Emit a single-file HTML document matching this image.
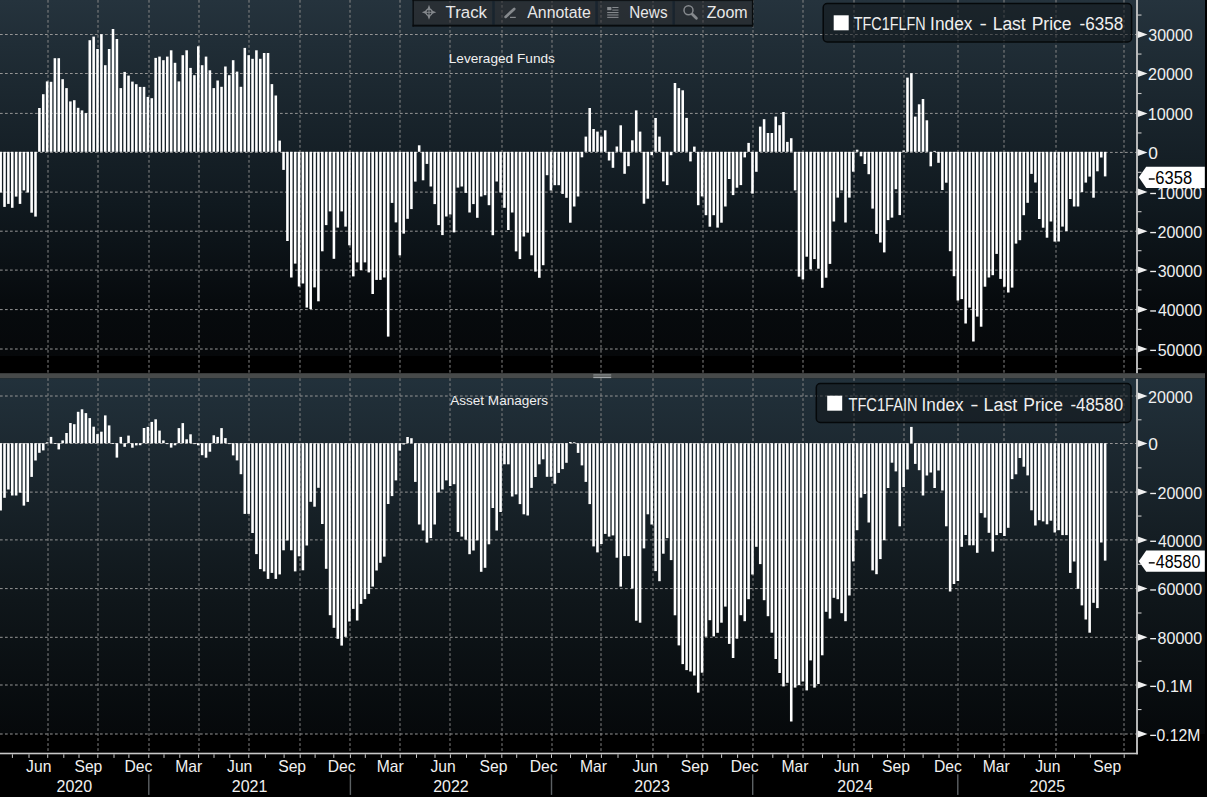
<!DOCTYPE html><html><head><meta charset="utf-8"><style>html,body{margin:0;padding:0;background:#000;overflow:hidden}svg{display:block}text{font-family:"Liberation Sans",sans-serif;}</style></head><body>
<svg width="1207" height="797" viewBox="0 0 1207 797">
<defs>
<linearGradient id="g0" x1="0" y1="0" x2="0" y2="356" gradientUnits="userSpaceOnUse"><stop offset="0" stop-color="#25333d"/><stop offset="0.126" stop-color="#202d36"/><stop offset="0.576" stop-color="#10191f"/><stop offset="0.843" stop-color="#070b0e"/><stop offset="1" stop-color="#06080a"/></linearGradient>
<linearGradient id="g1" x1="0" y1="378.2" x2="0" y2="734" gradientUnits="userSpaceOnUse"><stop offset="0" stop-color="#22313b"/><stop offset="0.202" stop-color="#1c2830"/><stop offset="0.624" stop-color="#0f161a"/><stop offset="1" stop-color="#06090b"/></linearGradient>
</defs>
<rect x="0" y="0" width="1207" height="797" fill="#000"/>
<rect x="0" y="0" width="1205" height="356" fill="url(#g0)"/>
<rect x="0" y="378.2" width="1205" height="355.8" fill="url(#g1)"/>
<rect x="0" y="373.2" width="1205" height="5.0" fill="#474a4a"/>
<rect x="593.3" y="374.1" width="17.9" height="1.7" fill="#7c8080"/><rect x="593.3" y="375.8" width="17.9" height="1" fill="#56595a"/><rect x="593.3" y="376.8" width="17.9" height="1.3" fill="#a0a4a6"/>
<g stroke="#959595" stroke-width="1" stroke-dasharray="2.7 2.3"><line x1="0" y1="34.50" x2="1137.0" y2="34.50"/><line x1="0" y1="73.50" x2="1137.0" y2="73.50"/><line x1="0" y1="113.40" x2="1137.0" y2="113.40"/><line x1="0" y1="152.40" x2="1137.0" y2="152.40"/><line x1="0" y1="192.10" x2="1137.0" y2="192.10"/><line x1="0" y1="231.20" x2="1137.0" y2="231.20"/><line x1="0" y1="270.10" x2="1137.0" y2="270.10"/><line x1="0" y1="309.60" x2="1137.0" y2="309.60"/><line x1="0" y1="349.00" x2="1137.0" y2="349.00"/><line x1="0" y1="396.00" x2="1137.0" y2="396.00"/><line x1="0" y1="443.50" x2="1137.0" y2="443.50"/><line x1="0" y1="492.10" x2="1137.0" y2="492.10"/><line x1="0" y1="539.90" x2="1137.0" y2="539.90"/><line x1="0" y1="588.60" x2="1137.0" y2="588.60"/><line x1="0" y1="637.30" x2="1137.0" y2="637.30"/><line x1="0" y1="685.00" x2="1137.0" y2="685.00"/><line x1="0" y1="734.00" x2="1137.0" y2="734.00"/></g>
<g stroke="#868686" stroke-width="1" stroke-dasharray="2.7 2.3"><line x1="48" y1="0" x2="48" y2="373.2"/><line x1="48" y1="378.2" x2="48" y2="753.5"/><line x1="98" y1="0" x2="98" y2="373.2"/><line x1="98" y1="378.2" x2="98" y2="753.5"/><line x1="149" y1="0" x2="149" y2="373.2"/><line x1="149" y1="378.2" x2="149" y2="753.5"/><line x1="199" y1="0" x2="199" y2="373.2"/><line x1="199" y1="378.2" x2="199" y2="753.5"/><line x1="249" y1="0" x2="249" y2="373.2"/><line x1="249" y1="378.2" x2="249" y2="753.5"/><line x1="300" y1="0" x2="300" y2="373.2"/><line x1="300" y1="378.2" x2="300" y2="753.5"/><line x1="350" y1="0" x2="350" y2="373.2"/><line x1="350" y1="378.2" x2="350" y2="753.5"/><line x1="400" y1="0" x2="400" y2="373.2"/><line x1="400" y1="378.2" x2="400" y2="753.5"/><line x1="450" y1="0" x2="450" y2="373.2"/><line x1="450" y1="378.2" x2="450" y2="753.5"/><line x1="502" y1="0" x2="502" y2="373.2"/><line x1="502" y1="378.2" x2="502" y2="753.5"/><line x1="552" y1="0" x2="552" y2="373.2"/><line x1="552" y1="378.2" x2="552" y2="753.5"/><line x1="601" y1="0" x2="601" y2="373.2"/><line x1="601" y1="378.2" x2="601" y2="753.5"/><line x1="653" y1="0" x2="653" y2="373.2"/><line x1="653" y1="378.2" x2="653" y2="753.5"/><line x1="703" y1="0" x2="703" y2="373.2"/><line x1="703" y1="378.2" x2="703" y2="753.5"/><line x1="753" y1="0" x2="753" y2="373.2"/><line x1="753" y1="378.2" x2="753" y2="753.5"/><line x1="803" y1="0" x2="803" y2="373.2"/><line x1="803" y1="378.2" x2="803" y2="753.5"/><line x1="854" y1="0" x2="854" y2="373.2"/><line x1="854" y1="378.2" x2="854" y2="753.5"/><line x1="904" y1="0" x2="904" y2="373.2"/><line x1="904" y1="378.2" x2="904" y2="753.5"/><line x1="958" y1="0" x2="958" y2="373.2"/><line x1="958" y1="378.2" x2="958" y2="753.5"/><line x1="1004" y1="0" x2="1004" y2="373.2"/><line x1="1004" y1="378.2" x2="1004" y2="753.5"/><line x1="1056" y1="0" x2="1056" y2="373.2"/><line x1="1056" y1="378.2" x2="1056" y2="753.5"/><line x1="1124" y1="0" x2="1124" y2="373.2"/><line x1="1124" y1="378.2" x2="1124" y2="753.5"/></g>
<g fill="#ffffff"><rect x="-0.64" y="151.80" width="2.55" height="40.70"/><rect x="3.23" y="151.80" width="2.55" height="55.10"/><rect x="7.11" y="151.80" width="2.55" height="52.10"/><rect x="10.98" y="151.80" width="2.55" height="56.00"/><rect x="14.86" y="151.80" width="2.55" height="44.80"/><rect x="18.73" y="151.80" width="2.55" height="52.10"/><rect x="22.61" y="151.80" width="2.55" height="38.60"/><rect x="26.48" y="151.80" width="2.55" height="40.70"/><rect x="30.36" y="151.80" width="2.55" height="60.90"/><rect x="34.23" y="151.80" width="2.55" height="64.80"/><rect x="38.11" y="108.00" width="2.55" height="43.80"/><rect x="41.99" y="94.20" width="2.55" height="57.60"/><rect x="45.86" y="81.40" width="2.55" height="70.40"/><rect x="49.74" y="81.80" width="2.55" height="70.00"/><rect x="53.61" y="58.20" width="2.55" height="93.60"/><rect x="57.49" y="58.20" width="2.55" height="93.60"/><rect x="61.36" y="79.20" width="2.55" height="72.60"/><rect x="65.24" y="88.10" width="2.55" height="63.70"/><rect x="69.11" y="101.40" width="2.55" height="50.40"/><rect x="72.99" y="100.20" width="2.55" height="51.60"/><rect x="76.86" y="107.80" width="2.55" height="44.00"/><rect x="80.74" y="110.40" width="2.55" height="41.40"/><rect x="84.62" y="113.10" width="2.55" height="38.70"/><rect x="88.49" y="40.20" width="2.55" height="111.60"/><rect x="92.37" y="36.60" width="2.55" height="115.20"/><rect x="96.24" y="49.00" width="2.55" height="102.80"/><rect x="100.12" y="34.20" width="2.55" height="117.60"/><rect x="103.99" y="65.20" width="2.55" height="86.60"/><rect x="107.87" y="49.00" width="2.55" height="102.80"/><rect x="111.74" y="29.00" width="2.55" height="122.80"/><rect x="115.62" y="39.00" width="2.55" height="112.80"/><rect x="119.50" y="88.10" width="2.55" height="63.70"/><rect x="123.37" y="71.90" width="2.55" height="79.90"/><rect x="127.25" y="75.60" width="2.55" height="76.20"/><rect x="131.12" y="81.60" width="2.55" height="70.20"/><rect x="135.00" y="84.20" width="2.55" height="67.60"/><rect x="138.87" y="86.90" width="2.55" height="64.90"/><rect x="142.75" y="86.90" width="2.55" height="64.90"/><rect x="146.62" y="96.90" width="2.55" height="54.90"/><rect x="150.50" y="98.20" width="2.55" height="53.60"/><rect x="154.38" y="57.90" width="2.55" height="93.90"/><rect x="158.25" y="56.60" width="2.55" height="95.20"/><rect x="162.13" y="60.20" width="2.55" height="91.60"/><rect x="166.00" y="56.60" width="2.55" height="95.20"/><rect x="169.88" y="50.30" width="2.55" height="101.50"/><rect x="173.75" y="62.80" width="2.55" height="89.00"/><rect x="177.63" y="81.40" width="2.55" height="70.40"/><rect x="181.50" y="55.20" width="2.55" height="96.60"/><rect x="185.38" y="50.30" width="2.55" height="101.50"/><rect x="189.25" y="67.90" width="2.55" height="83.90"/><rect x="193.13" y="75.20" width="2.55" height="76.60"/><rect x="197.01" y="46.30" width="2.55" height="105.50"/><rect x="200.88" y="65.20" width="2.55" height="86.60"/><rect x="204.76" y="56.60" width="2.55" height="95.20"/><rect x="208.63" y="70.30" width="2.55" height="81.50"/><rect x="212.51" y="88.10" width="2.55" height="63.70"/><rect x="216.38" y="80.50" width="2.55" height="71.30"/><rect x="220.26" y="86.80" width="2.55" height="65.00"/><rect x="224.13" y="66.50" width="2.55" height="85.30"/><rect x="228.01" y="75.20" width="2.55" height="76.60"/><rect x="231.88" y="60.20" width="2.55" height="91.60"/><rect x="235.76" y="71.60" width="2.55" height="80.20"/><rect x="239.64" y="86.80" width="2.55" height="65.00"/><rect x="243.51" y="47.90" width="2.55" height="103.90"/><rect x="247.39" y="55.20" width="2.55" height="96.60"/><rect x="251.26" y="58.80" width="2.55" height="93.00"/><rect x="255.14" y="50.30" width="2.55" height="101.50"/><rect x="259.01" y="58.80" width="2.55" height="93.00"/><rect x="262.89" y="53.00" width="2.55" height="98.80"/><rect x="266.76" y="53.00" width="2.55" height="98.80"/><rect x="270.64" y="84.10" width="2.55" height="67.70"/><rect x="274.52" y="95.50" width="2.55" height="56.30"/><rect x="278.39" y="140.60" width="2.55" height="11.20"/><rect x="282.27" y="151.80" width="2.55" height="18.10"/><rect x="286.14" y="151.80" width="2.55" height="89.20"/><rect x="290.02" y="151.80" width="2.55" height="125.70"/><rect x="293.89" y="151.80" width="2.55" height="111.80"/><rect x="297.77" y="151.80" width="2.55" height="134.70"/><rect x="301.64" y="151.80" width="2.55" height="131.70"/><rect x="305.52" y="151.80" width="2.55" height="155.80"/><rect x="309.40" y="151.80" width="2.55" height="157.30"/><rect x="313.27" y="151.80" width="2.55" height="135.60"/><rect x="317.15" y="151.80" width="2.55" height="149.50"/><rect x="321.02" y="151.80" width="2.55" height="99.50"/><rect x="324.90" y="151.80" width="2.55" height="73.30"/><rect x="328.77" y="151.80" width="2.55" height="59.60"/><rect x="332.65" y="151.80" width="2.55" height="107.00"/><rect x="336.52" y="151.80" width="2.55" height="75.80"/><rect x="340.40" y="151.80" width="2.55" height="59.60"/><rect x="344.27" y="151.80" width="2.55" height="74.80"/><rect x="348.15" y="151.80" width="2.55" height="93.50"/><rect x="352.03" y="151.80" width="2.55" height="124.60"/><rect x="355.90" y="151.80" width="2.55" height="110.60"/><rect x="359.78" y="151.80" width="2.55" height="118.20"/><rect x="363.65" y="151.80" width="2.55" height="110.60"/><rect x="367.53" y="151.80" width="2.55" height="120.60"/><rect x="371.40" y="151.80" width="2.55" height="142.20"/><rect x="375.28" y="151.80" width="2.55" height="128.10"/><rect x="379.15" y="151.80" width="2.55" height="128.10"/><rect x="383.03" y="151.80" width="2.55" height="125.70"/><rect x="386.91" y="151.80" width="2.55" height="184.80"/><rect x="390.78" y="151.80" width="2.55" height="51.10"/><rect x="394.66" y="151.80" width="2.55" height="70.60"/><rect x="398.53" y="151.80" width="2.55" height="103.50"/><rect x="402.41" y="151.80" width="2.55" height="81.80"/><rect x="406.28" y="151.80" width="2.55" height="67.00"/><rect x="410.16" y="151.80" width="2.55" height="57.30"/><rect x="414.03" y="151.80" width="2.55" height="29.80"/><rect x="417.91" y="145.30" width="2.55" height="6.50"/><rect x="421.78" y="151.80" width="2.55" height="28.50"/><rect x="425.66" y="151.80" width="2.55" height="12.10"/><rect x="429.54" y="151.80" width="2.55" height="34.70"/><rect x="433.41" y="151.80" width="2.55" height="52.30"/><rect x="437.29" y="151.80" width="2.55" height="73.30"/><rect x="441.16" y="151.80" width="2.55" height="83.30"/><rect x="445.04" y="151.80" width="2.55" height="64.70"/><rect x="448.91" y="151.80" width="2.55" height="62.70"/><rect x="452.79" y="151.80" width="2.55" height="80.60"/><rect x="456.66" y="151.80" width="2.55" height="35.80"/><rect x="460.54" y="151.80" width="2.55" height="34.70"/><rect x="464.42" y="151.80" width="2.55" height="41.10"/><rect x="468.29" y="151.80" width="2.55" height="60.70"/><rect x="472.17" y="151.80" width="2.55" height="52.30"/><rect x="476.04" y="151.80" width="2.55" height="66.00"/><rect x="479.92" y="151.80" width="2.55" height="44.70"/><rect x="483.79" y="151.80" width="2.55" height="43.40"/><rect x="487.67" y="151.80" width="2.55" height="53.40"/><rect x="491.54" y="151.80" width="2.55" height="83.40"/><rect x="495.42" y="151.80" width="2.55" height="29.70"/><rect x="499.29" y="151.80" width="2.55" height="40.70"/><rect x="503.17" y="151.80" width="2.55" height="56.00"/><rect x="507.05" y="151.80" width="2.55" height="78.20"/><rect x="510.92" y="151.80" width="2.55" height="60.70"/><rect x="514.80" y="151.80" width="2.55" height="99.60"/><rect x="518.67" y="151.80" width="2.55" height="107.30"/><rect x="522.55" y="151.80" width="2.55" height="84.70"/><rect x="526.42" y="151.80" width="2.55" height="80.80"/><rect x="530.30" y="151.80" width="2.55" height="103.50"/><rect x="534.17" y="151.80" width="2.55" height="119.80"/><rect x="538.05" y="151.80" width="2.55" height="126.00"/><rect x="541.93" y="151.80" width="2.55" height="113.40"/><rect x="545.80" y="151.80" width="2.55" height="23.40"/><rect x="549.68" y="151.80" width="2.55" height="38.70"/><rect x="553.55" y="151.80" width="2.55" height="33.40"/><rect x="557.43" y="151.80" width="2.55" height="33.40"/><rect x="561.30" y="151.80" width="2.55" height="42.10"/><rect x="565.18" y="151.80" width="2.55" height="46.00"/><rect x="569.05" y="151.80" width="2.55" height="70.90"/><rect x="572.93" y="151.80" width="2.55" height="54.70"/><rect x="576.80" y="151.80" width="2.55" height="44.70"/><rect x="580.68" y="151.80" width="2.55" height="5.50"/><rect x="584.56" y="136.60" width="2.55" height="15.20"/><rect x="588.43" y="108.00" width="2.55" height="43.80"/><rect x="592.31" y="129.00" width="2.55" height="22.80"/><rect x="596.18" y="131.60" width="2.55" height="20.20"/><rect x="600.06" y="136.60" width="2.55" height="15.20"/><rect x="603.93" y="130.30" width="2.55" height="21.50"/><rect x="607.81" y="151.80" width="2.55" height="8.70"/><rect x="611.68" y="151.80" width="2.55" height="16.00"/><rect x="615.56" y="146.50" width="2.55" height="5.30"/><rect x="619.44" y="125.30" width="2.55" height="26.50"/><rect x="623.31" y="151.80" width="2.55" height="22.00"/><rect x="627.19" y="151.80" width="2.55" height="14.40"/><rect x="631.06" y="140.30" width="2.55" height="11.50"/><rect x="634.94" y="110.40" width="2.55" height="41.40"/><rect x="638.81" y="131.60" width="2.55" height="20.20"/><rect x="642.69" y="151.80" width="2.55" height="51.90"/><rect x="646.56" y="151.80" width="2.55" height="46.90"/><rect x="650.44" y="151.80" width="2.55" height="3.40"/><rect x="654.31" y="118.00" width="2.55" height="33.80"/><rect x="658.19" y="136.60" width="2.55" height="15.20"/><rect x="662.07" y="151.80" width="2.55" height="29.60"/><rect x="665.94" y="151.80" width="2.55" height="33.30"/><rect x="669.82" y="151.80" width="2.55" height="3.40"/><rect x="673.69" y="83.00" width="2.55" height="68.80"/><rect x="677.57" y="88.10" width="2.55" height="63.70"/><rect x="681.44" y="90.30" width="2.55" height="61.50"/><rect x="685.32" y="117.90" width="2.55" height="33.90"/><rect x="689.19" y="151.80" width="2.55" height="9.60"/><rect x="693.07" y="146.60" width="2.55" height="5.20"/><rect x="696.95" y="151.80" width="2.55" height="53.40"/><rect x="700.82" y="151.80" width="2.55" height="44.60"/><rect x="704.70" y="151.80" width="2.55" height="63.40"/><rect x="708.57" y="151.80" width="2.55" height="74.90"/><rect x="712.45" y="151.80" width="2.55" height="63.40"/><rect x="716.32" y="151.80" width="2.55" height="75.80"/><rect x="720.20" y="151.80" width="2.55" height="70.90"/><rect x="724.07" y="151.80" width="2.55" height="54.70"/><rect x="727.95" y="151.80" width="2.55" height="27.20"/><rect x="731.82" y="151.80" width="2.55" height="43.30"/><rect x="735.70" y="151.80" width="2.55" height="35.90"/><rect x="739.58" y="151.80" width="2.55" height="33.30"/><rect x="743.45" y="151.80" width="2.55" height="5.60"/><rect x="747.33" y="142.90" width="2.55" height="8.90"/><rect x="751.20" y="151.80" width="2.55" height="41.80"/><rect x="755.08" y="151.80" width="2.55" height="20.00"/><rect x="758.95" y="126.60" width="2.55" height="25.20"/><rect x="762.83" y="119.20" width="2.55" height="32.60"/><rect x="766.70" y="133.00" width="2.55" height="18.80"/><rect x="770.58" y="133.00" width="2.55" height="18.80"/><rect x="774.46" y="116.60" width="2.55" height="35.20"/><rect x="778.33" y="125.20" width="2.55" height="26.60"/><rect x="782.21" y="112.00" width="2.55" height="39.80"/><rect x="786.08" y="141.90" width="2.55" height="9.90"/><rect x="789.96" y="138.20" width="2.55" height="13.60"/><rect x="793.83" y="151.80" width="2.55" height="38.60"/><rect x="797.71" y="151.80" width="2.55" height="124.90"/><rect x="801.58" y="151.80" width="2.55" height="127.70"/><rect x="805.46" y="151.80" width="2.55" height="104.90"/><rect x="809.33" y="151.80" width="2.55" height="117.60"/><rect x="813.21" y="151.80" width="2.55" height="107.30"/><rect x="817.09" y="151.80" width="2.55" height="116.90"/><rect x="820.96" y="151.80" width="2.55" height="136.00"/><rect x="824.84" y="151.80" width="2.55" height="125.90"/><rect x="828.71" y="151.80" width="2.55" height="112.10"/><rect x="832.59" y="151.80" width="2.55" height="69.70"/><rect x="836.46" y="151.80" width="2.55" height="45.80"/><rect x="840.34" y="151.80" width="2.55" height="38.60"/><rect x="844.21" y="151.80" width="2.55" height="70.70"/><rect x="848.09" y="151.80" width="2.55" height="45.80"/><rect x="851.97" y="151.80" width="2.55" height="19.90"/><rect x="855.84" y="149.70" width="2.55" height="2.10"/><rect x="859.72" y="151.80" width="2.55" height="4.50"/><rect x="863.59" y="151.80" width="2.55" height="12.20"/><rect x="867.47" y="151.80" width="2.55" height="22.40"/><rect x="871.34" y="151.80" width="2.55" height="56.80"/><rect x="875.22" y="151.80" width="2.55" height="82.10"/><rect x="879.09" y="151.80" width="2.55" height="90.70"/><rect x="882.97" y="151.80" width="2.55" height="100.60"/><rect x="886.84" y="151.80" width="2.55" height="68.30"/><rect x="890.72" y="151.80" width="2.55" height="65.80"/><rect x="894.60" y="151.80" width="2.55" height="37.40"/><rect x="898.47" y="151.80" width="2.55" height="63.30"/><rect x="902.35" y="150.50" width="2.55" height="1.30"/><rect x="906.22" y="77.60" width="2.55" height="74.20"/><rect x="910.10" y="73.20" width="2.55" height="78.60"/><rect x="913.97" y="116.60" width="2.55" height="35.20"/><rect x="917.85" y="104.30" width="2.55" height="47.50"/><rect x="921.72" y="99.00" width="2.55" height="52.80"/><rect x="925.60" y="120.30" width="2.55" height="31.50"/><rect x="929.48" y="151.80" width="2.55" height="14.50"/><rect x="933.35" y="150.90" width="2.55" height="0.90"/><rect x="937.23" y="151.80" width="2.55" height="11.00"/><rect x="941.10" y="151.80" width="2.55" height="38.20"/><rect x="944.98" y="151.80" width="2.55" height="30.90"/><rect x="948.85" y="151.80" width="2.55" height="99.40"/><rect x="952.73" y="151.80" width="2.55" height="124.40"/><rect x="956.60" y="151.80" width="2.55" height="148.70"/><rect x="960.48" y="151.80" width="2.55" height="147.30"/><rect x="964.35" y="151.80" width="2.55" height="171.70"/><rect x="968.23" y="151.80" width="2.55" height="155.80"/><rect x="972.11" y="151.80" width="2.55" height="189.70"/><rect x="975.98" y="151.80" width="2.55" height="164.80"/><rect x="979.86" y="151.80" width="2.55" height="174.90"/><rect x="983.73" y="151.80" width="2.55" height="134.90"/><rect x="987.61" y="151.80" width="2.55" height="125.70"/><rect x="991.48" y="151.80" width="2.55" height="123.40"/><rect x="995.36" y="151.80" width="2.55" height="102.10"/><rect x="999.23" y="151.80" width="2.55" height="127.10"/><rect x="1003.11" y="151.80" width="2.55" height="134.90"/><rect x="1006.99" y="151.80" width="2.55" height="140.70"/><rect x="1010.86" y="151.80" width="2.55" height="135.80"/><rect x="1014.74" y="151.80" width="2.55" height="91.80"/><rect x="1018.61" y="151.80" width="2.55" height="88.40"/><rect x="1022.49" y="151.80" width="2.55" height="63.40"/><rect x="1026.36" y="151.80" width="2.55" height="51.00"/><rect x="1030.24" y="151.80" width="2.55" height="22.10"/><rect x="1034.11" y="151.80" width="2.55" height="30.70"/><rect x="1037.99" y="151.80" width="2.55" height="67.20"/><rect x="1041.86" y="151.80" width="2.55" height="75.90"/><rect x="1045.74" y="151.80" width="2.55" height="85.90"/><rect x="1049.62" y="151.80" width="2.55" height="69.70"/><rect x="1053.49" y="151.80" width="2.55" height="89.80"/><rect x="1057.37" y="151.80" width="2.55" height="89.70"/><rect x="1061.24" y="151.80" width="2.55" height="74.80"/><rect x="1065.12" y="151.80" width="2.55" height="79.20"/><rect x="1068.99" y="151.80" width="2.55" height="47.20"/><rect x="1072.87" y="151.80" width="2.55" height="54.70"/><rect x="1076.74" y="151.80" width="2.55" height="54.70"/><rect x="1080.62" y="151.80" width="2.55" height="40.20"/><rect x="1084.50" y="151.80" width="2.55" height="30.80"/><rect x="1088.37" y="151.80" width="2.55" height="24.80"/><rect x="1092.25" y="151.80" width="2.55" height="45.90"/><rect x="1096.12" y="151.80" width="2.55" height="19.50"/><rect x="1100.00" y="151.80" width="2.55" height="5.70"/><rect x="1103.87" y="151.80" width="2.55" height="24.60"/><rect x="-0.64" y="443.20" width="2.55" height="67.30"/><rect x="3.23" y="443.20" width="2.55" height="54.60"/><rect x="7.11" y="443.20" width="2.55" height="46.30"/><rect x="10.98" y="443.20" width="2.55" height="52.30"/><rect x="14.86" y="443.20" width="2.55" height="52.30"/><rect x="18.73" y="443.20" width="2.55" height="49.50"/><rect x="22.61" y="443.20" width="2.55" height="62.40"/><rect x="26.48" y="443.20" width="2.55" height="58.70"/><rect x="30.36" y="443.20" width="2.55" height="33.70"/><rect x="34.23" y="443.20" width="2.55" height="17.30"/><rect x="38.11" y="443.20" width="2.55" height="9.60"/><rect x="41.99" y="443.20" width="2.55" height="7.20"/><rect x="45.86" y="442.30" width="2.55" height="0.90"/><rect x="49.74" y="436.90" width="2.55" height="6.30"/><rect x="53.61" y="443.20" width="2.55" height="0.80"/><rect x="57.49" y="443.20" width="2.55" height="6.20"/><rect x="61.36" y="440.40" width="2.55" height="2.80"/><rect x="65.24" y="433.00" width="2.55" height="10.20"/><rect x="69.11" y="423.00" width="2.55" height="20.20"/><rect x="72.99" y="424.20" width="2.55" height="19.00"/><rect x="76.86" y="411.80" width="2.55" height="31.40"/><rect x="80.74" y="409.30" width="2.55" height="33.90"/><rect x="84.62" y="413.10" width="2.55" height="30.10"/><rect x="88.49" y="418.10" width="2.55" height="25.10"/><rect x="92.37" y="426.70" width="2.55" height="16.50"/><rect x="96.24" y="434.10" width="2.55" height="9.10"/><rect x="100.12" y="431.70" width="2.55" height="11.50"/><rect x="103.99" y="415.40" width="2.55" height="27.80"/><rect x="107.87" y="425.40" width="2.55" height="17.80"/><rect x="111.74" y="443.20" width="2.55" height="0.80"/><rect x="115.62" y="443.20" width="2.55" height="14.40"/><rect x="119.50" y="436.90" width="2.55" height="6.30"/><rect x="123.37" y="443.20" width="2.55" height="3.60"/><rect x="127.25" y="435.60" width="2.55" height="7.60"/><rect x="131.12" y="443.20" width="2.55" height="4.50"/><rect x="135.00" y="443.20" width="2.55" height="2.20"/><rect x="138.87" y="443.20" width="2.55" height="2.00"/><rect x="142.75" y="428.00" width="2.55" height="15.20"/><rect x="146.62" y="426.90" width="2.55" height="16.30"/><rect x="150.50" y="421.90" width="2.55" height="21.30"/><rect x="154.38" y="419.30" width="2.55" height="23.90"/><rect x="158.25" y="430.60" width="2.55" height="12.60"/><rect x="162.13" y="440.40" width="2.55" height="2.80"/><rect x="166.00" y="443.20" width="2.55" height="0.90"/><rect x="169.88" y="443.20" width="2.55" height="4.40"/><rect x="173.75" y="443.20" width="2.55" height="2.10"/><rect x="177.63" y="428.10" width="2.55" height="15.10"/><rect x="181.50" y="423.10" width="2.55" height="20.10"/><rect x="185.38" y="439.30" width="2.55" height="3.90"/><rect x="189.25" y="434.30" width="2.55" height="8.90"/><rect x="193.13" y="443.20" width="2.55" height="0.90"/><rect x="197.01" y="443.20" width="2.55" height="2.10"/><rect x="200.88" y="443.20" width="2.55" height="12.00"/><rect x="204.76" y="443.20" width="2.55" height="14.50"/><rect x="208.63" y="443.20" width="2.55" height="8.50"/><rect x="212.51" y="435.30" width="2.55" height="7.90"/><rect x="216.38" y="436.90" width="2.55" height="6.30"/><rect x="220.26" y="428.10" width="2.55" height="15.10"/><rect x="224.13" y="438.10" width="2.55" height="5.10"/><rect x="228.01" y="443.20" width="2.55" height="0.90"/><rect x="231.88" y="443.20" width="2.55" height="12.20"/><rect x="235.76" y="443.20" width="2.55" height="17.20"/><rect x="239.64" y="443.20" width="2.55" height="31.00"/><rect x="243.51" y="443.20" width="2.55" height="70.70"/><rect x="247.39" y="443.20" width="2.55" height="70.70"/><rect x="251.26" y="443.20" width="2.55" height="89.80"/><rect x="255.14" y="443.20" width="2.55" height="110.90"/><rect x="259.01" y="443.20" width="2.55" height="125.90"/><rect x="262.89" y="443.20" width="2.55" height="128.20"/><rect x="266.76" y="443.20" width="2.55" height="135.70"/><rect x="270.64" y="443.20" width="2.55" height="129.70"/><rect x="274.52" y="443.20" width="2.55" height="135.70"/><rect x="278.39" y="443.20" width="2.55" height="131.20"/><rect x="282.27" y="443.20" width="2.55" height="107.10"/><rect x="286.14" y="443.20" width="2.55" height="97.30"/><rect x="290.02" y="443.20" width="2.55" height="107.10"/><rect x="293.89" y="443.20" width="2.55" height="128.20"/><rect x="297.77" y="443.20" width="2.55" height="113.10"/><rect x="301.64" y="443.20" width="2.55" height="127.10"/><rect x="305.52" y="443.20" width="2.55" height="102.30"/><rect x="309.40" y="443.20" width="2.55" height="58.60"/><rect x="313.27" y="443.20" width="2.55" height="63.50"/><rect x="317.15" y="443.20" width="2.55" height="44.60"/><rect x="321.02" y="443.20" width="2.55" height="80.80"/><rect x="324.90" y="443.20" width="2.55" height="125.60"/><rect x="328.77" y="443.20" width="2.55" height="172.00"/><rect x="332.65" y="443.20" width="2.55" height="184.60"/><rect x="336.52" y="443.20" width="2.55" height="195.60"/><rect x="340.40" y="443.20" width="2.55" height="202.40"/><rect x="344.27" y="443.20" width="2.55" height="193.60"/><rect x="348.15" y="443.20" width="2.55" height="178.30"/><rect x="352.03" y="443.20" width="2.55" height="165.70"/><rect x="355.90" y="443.20" width="2.55" height="177.30"/><rect x="359.78" y="443.20" width="2.55" height="160.70"/><rect x="363.65" y="443.20" width="2.55" height="155.90"/><rect x="367.53" y="443.20" width="2.55" height="150.70"/><rect x="371.40" y="443.20" width="2.55" height="143.40"/><rect x="375.28" y="443.20" width="2.55" height="127.30"/><rect x="379.15" y="443.20" width="2.55" height="119.60"/><rect x="383.03" y="443.20" width="2.55" height="113.40"/><rect x="386.91" y="443.20" width="2.55" height="60.80"/><rect x="390.78" y="443.20" width="2.55" height="52.90"/><rect x="394.66" y="443.20" width="2.55" height="37.20"/><rect x="398.53" y="443.20" width="2.55" height="7.40"/><rect x="402.41" y="443.20" width="2.55" height="1.30"/><rect x="406.28" y="437.00" width="2.55" height="6.20"/><rect x="410.16" y="438.20" width="2.55" height="5.00"/><rect x="414.03" y="443.20" width="2.55" height="38.70"/><rect x="417.91" y="443.20" width="2.55" height="81.30"/><rect x="421.78" y="443.20" width="2.55" height="87.30"/><rect x="425.66" y="443.20" width="2.55" height="99.40"/><rect x="429.54" y="443.20" width="2.55" height="94.90"/><rect x="433.41" y="443.20" width="2.55" height="81.30"/><rect x="437.29" y="443.20" width="2.55" height="49.30"/><rect x="441.16" y="443.20" width="2.55" height="46.30"/><rect x="445.04" y="443.20" width="2.55" height="37.20"/><rect x="448.91" y="443.20" width="2.55" height="42.80"/><rect x="452.79" y="443.20" width="2.55" height="41.00"/><rect x="456.66" y="443.20" width="2.55" height="88.80"/><rect x="460.54" y="443.20" width="2.55" height="93.40"/><rect x="464.42" y="443.20" width="2.55" height="96.50"/><rect x="468.29" y="443.20" width="2.55" height="111.00"/><rect x="472.17" y="443.20" width="2.55" height="107.30"/><rect x="476.04" y="443.20" width="2.55" height="97.20"/><rect x="479.92" y="443.20" width="2.55" height="128.60"/><rect x="483.79" y="443.20" width="2.55" height="124.60"/><rect x="487.67" y="443.20" width="2.55" height="101.10"/><rect x="491.54" y="443.20" width="2.55" height="64.80"/><rect x="495.42" y="443.20" width="2.55" height="87.30"/><rect x="499.29" y="443.20" width="2.55" height="68.80"/><rect x="503.17" y="443.20" width="2.55" height="21.10"/><rect x="507.05" y="443.20" width="2.55" height="21.10"/><rect x="510.92" y="443.20" width="2.55" height="53.30"/><rect x="514.80" y="443.20" width="2.55" height="51.20"/><rect x="518.67" y="443.20" width="2.55" height="60.90"/><rect x="522.55" y="443.20" width="2.55" height="71.10"/><rect x="526.42" y="443.20" width="2.55" height="72.30"/><rect x="530.30" y="443.20" width="2.55" height="44.70"/><rect x="534.17" y="443.20" width="2.55" height="33.80"/><rect x="538.05" y="443.20" width="2.55" height="21.10"/><rect x="541.93" y="443.20" width="2.55" height="16.10"/><rect x="545.80" y="443.20" width="2.55" height="33.60"/><rect x="549.68" y="443.20" width="2.55" height="33.60"/><rect x="553.55" y="443.20" width="2.55" height="40.50"/><rect x="557.43" y="443.20" width="2.55" height="29.70"/><rect x="561.30" y="443.20" width="2.55" height="25.90"/><rect x="565.18" y="443.20" width="2.55" height="19.60"/><rect x="569.05" y="442.00" width="2.55" height="1.20"/><rect x="572.93" y="442.30" width="2.55" height="0.90"/><rect x="576.80" y="443.20" width="2.55" height="9.70"/><rect x="580.68" y="443.20" width="2.55" height="22.20"/><rect x="584.56" y="443.20" width="2.55" height="38.70"/><rect x="588.43" y="443.20" width="2.55" height="60.90"/><rect x="592.31" y="443.20" width="2.55" height="103.20"/><rect x="596.18" y="443.20" width="2.55" height="109.20"/><rect x="600.06" y="443.20" width="2.55" height="100.80"/><rect x="603.93" y="443.20" width="2.55" height="90.70"/><rect x="607.81" y="443.20" width="2.55" height="93.40"/><rect x="611.68" y="443.20" width="2.55" height="92.20"/><rect x="615.56" y="443.20" width="2.55" height="114.50"/><rect x="619.44" y="443.20" width="2.55" height="143.40"/><rect x="623.31" y="443.20" width="2.55" height="112.90"/><rect x="627.19" y="443.20" width="2.55" height="112.90"/><rect x="631.06" y="443.20" width="2.55" height="145.40"/><rect x="634.94" y="443.20" width="2.55" height="177.50"/><rect x="638.81" y="443.20" width="2.55" height="179.50"/><rect x="642.69" y="443.20" width="2.55" height="105.20"/><rect x="646.56" y="443.20" width="2.55" height="71.10"/><rect x="650.44" y="443.20" width="2.55" height="81.30"/><rect x="654.31" y="443.20" width="2.55" height="127.90"/><rect x="658.19" y="443.20" width="2.55" height="138.00"/><rect x="662.07" y="443.20" width="2.55" height="110.50"/><rect x="665.94" y="443.20" width="2.55" height="94.90"/><rect x="669.82" y="443.20" width="2.55" height="116.90"/><rect x="673.69" y="443.20" width="2.55" height="172.10"/><rect x="677.57" y="443.20" width="2.55" height="202.20"/><rect x="681.44" y="443.20" width="2.55" height="220.90"/><rect x="685.32" y="443.20" width="2.55" height="226.90"/><rect x="689.19" y="443.20" width="2.55" height="228.30"/><rect x="693.07" y="443.20" width="2.55" height="232.30"/><rect x="696.95" y="443.20" width="2.55" height="249.40"/><rect x="700.82" y="443.20" width="2.55" height="229.50"/><rect x="704.70" y="443.20" width="2.55" height="193.50"/><rect x="708.57" y="443.20" width="2.55" height="177.00"/><rect x="712.45" y="443.20" width="2.55" height="193.20"/><rect x="716.32" y="443.20" width="2.55" height="189.60"/><rect x="720.20" y="443.20" width="2.55" height="179.50"/><rect x="724.07" y="443.20" width="2.55" height="163.40"/><rect x="727.95" y="443.20" width="2.55" height="200.70"/><rect x="731.82" y="443.20" width="2.55" height="214.80"/><rect x="735.70" y="443.20" width="2.55" height="195.50"/><rect x="739.58" y="443.20" width="2.55" height="172.00"/><rect x="743.45" y="443.20" width="2.55" height="178.00"/><rect x="747.33" y="443.20" width="2.55" height="156.00"/><rect x="751.20" y="443.20" width="2.55" height="131.30"/><rect x="755.08" y="443.20" width="2.55" height="103.60"/><rect x="758.95" y="443.20" width="2.55" height="120.90"/><rect x="762.83" y="443.20" width="2.55" height="157.00"/><rect x="766.70" y="443.20" width="2.55" height="173.00"/><rect x="770.58" y="443.20" width="2.55" height="189.50"/><rect x="774.46" y="443.20" width="2.55" height="215.80"/><rect x="778.33" y="443.20" width="2.55" height="229.80"/><rect x="782.21" y="443.20" width="2.55" height="243.20"/><rect x="786.08" y="443.20" width="2.55" height="239.60"/><rect x="789.96" y="443.20" width="2.55" height="278.30"/><rect x="793.83" y="443.20" width="2.55" height="244.40"/><rect x="797.71" y="443.20" width="2.55" height="242.00"/><rect x="801.58" y="443.20" width="2.55" height="238.30"/><rect x="805.46" y="443.20" width="2.55" height="247.20"/><rect x="809.33" y="443.20" width="2.55" height="217.20"/><rect x="813.21" y="443.20" width="2.55" height="244.40"/><rect x="817.09" y="443.20" width="2.55" height="240.80"/><rect x="820.96" y="443.20" width="2.55" height="212.10"/><rect x="824.84" y="443.20" width="2.55" height="168.60"/><rect x="828.71" y="443.20" width="2.55" height="175.40"/><rect x="832.59" y="443.20" width="2.55" height="154.60"/><rect x="836.46" y="443.20" width="2.55" height="156.00"/><rect x="840.34" y="443.20" width="2.55" height="170.00"/><rect x="844.21" y="443.20" width="2.55" height="178.00"/><rect x="848.09" y="443.20" width="2.55" height="152.30"/><rect x="851.97" y="443.20" width="2.55" height="118.20"/><rect x="855.84" y="443.20" width="2.55" height="87.00"/><rect x="859.72" y="443.20" width="2.55" height="54.40"/><rect x="863.59" y="443.20" width="2.55" height="50.80"/><rect x="867.47" y="443.20" width="2.55" height="79.30"/><rect x="871.34" y="443.20" width="2.55" height="127.20"/><rect x="875.22" y="443.20" width="2.55" height="131.00"/><rect x="879.09" y="443.20" width="2.55" height="115.90"/><rect x="882.97" y="443.20" width="2.55" height="97.10"/><rect x="886.84" y="443.20" width="2.55" height="44.80"/><rect x="890.72" y="443.20" width="2.55" height="19.50"/><rect x="894.60" y="443.20" width="2.55" height="28.20"/><rect x="898.47" y="443.20" width="2.55" height="83.10"/><rect x="902.35" y="443.20" width="2.55" height="43.90"/><rect x="906.22" y="443.20" width="2.55" height="26.30"/><rect x="910.10" y="426.90" width="2.55" height="16.30"/><rect x="913.97" y="443.20" width="2.55" height="20.70"/><rect x="917.85" y="443.20" width="2.55" height="27.00"/><rect x="921.72" y="443.20" width="2.55" height="52.30"/><rect x="925.60" y="443.20" width="2.55" height="32.30"/><rect x="929.48" y="443.20" width="2.55" height="29.30"/><rect x="933.35" y="443.20" width="2.55" height="44.80"/><rect x="937.23" y="443.20" width="2.55" height="27.30"/><rect x="941.10" y="443.20" width="2.55" height="47.30"/><rect x="944.98" y="443.20" width="2.55" height="83.10"/><rect x="948.85" y="443.20" width="2.55" height="148.30"/><rect x="952.73" y="443.20" width="2.55" height="140.80"/><rect x="956.60" y="443.20" width="2.55" height="137.80"/><rect x="960.48" y="443.20" width="2.55" height="103.60"/><rect x="964.35" y="443.20" width="2.55" height="91.80"/><rect x="968.23" y="443.20" width="2.55" height="102.10"/><rect x="972.11" y="443.20" width="2.55" height="102.10"/><rect x="975.98" y="443.20" width="2.55" height="109.60"/><rect x="979.86" y="443.20" width="2.55" height="69.90"/><rect x="983.73" y="443.20" width="2.55" height="74.40"/><rect x="987.61" y="443.20" width="2.55" height="89.60"/><rect x="991.48" y="443.20" width="2.55" height="108.40"/><rect x="995.36" y="443.20" width="2.55" height="91.90"/><rect x="999.23" y="443.20" width="2.55" height="89.80"/><rect x="1003.11" y="443.20" width="2.55" height="92.80"/><rect x="1006.99" y="443.20" width="2.55" height="84.60"/><rect x="1010.86" y="443.20" width="2.55" height="35.90"/><rect x="1014.74" y="443.20" width="2.55" height="31.10"/><rect x="1018.61" y="443.20" width="2.55" height="14.80"/><rect x="1022.49" y="443.20" width="2.55" height="23.50"/><rect x="1026.36" y="443.20" width="2.55" height="32.20"/><rect x="1030.24" y="443.20" width="2.55" height="67.10"/><rect x="1034.11" y="443.20" width="2.55" height="82.30"/><rect x="1037.99" y="443.20" width="2.55" height="77.00"/><rect x="1041.86" y="443.20" width="2.55" height="78.20"/><rect x="1045.74" y="443.20" width="2.55" height="81.10"/><rect x="1049.62" y="443.20" width="2.55" height="77.50"/><rect x="1053.49" y="443.20" width="2.55" height="89.30"/><rect x="1057.37" y="443.20" width="2.55" height="87.00"/><rect x="1061.24" y="443.20" width="2.55" height="91.90"/><rect x="1065.12" y="443.20" width="2.55" height="91.90"/><rect x="1068.99" y="443.20" width="2.55" height="129.70"/><rect x="1072.87" y="443.20" width="2.55" height="118.30"/><rect x="1076.74" y="443.20" width="2.55" height="145.60"/><rect x="1080.62" y="443.20" width="2.55" height="162.20"/><rect x="1084.50" y="443.20" width="2.55" height="176.30"/><rect x="1088.37" y="443.20" width="2.55" height="189.50"/><rect x="1092.25" y="443.20" width="2.55" height="159.60"/><rect x="1096.12" y="443.20" width="2.55" height="164.90"/><rect x="1100.00" y="443.20" width="2.55" height="99.30"/><rect x="1103.87" y="443.20" width="2.55" height="117.40"/></g>
<rect x="1136.1" y="0" width="1.8" height="373.2" fill="#c8c8c8"/>
<rect x="1136.1" y="378.9" width="1.8" height="375.40000000000003" fill="#c8c8c8"/>
<rect x="0" y="752.7" width="1137.9" height="1.6" fill="#c8c8c8"/>
<g fill="#c8c8c8"><rect x="11.90" y="754.30" width="1" height="3.6"/><rect x="28.50" y="754.30" width="1" height="3.6"/><rect x="47.20" y="754.30" width="1" height="3.6"/><rect x="63.30" y="754.30" width="1" height="3.6"/><rect x="78.50" y="754.30" width="1" height="3.6"/><rect x="97.30" y="754.30" width="1" height="3.6"/><rect x="113.50" y="754.30" width="1" height="3.6"/><rect x="128.40" y="754.30" width="1" height="3.6"/><rect x="148.30" y="754.30" width="1" height="3.6"/><rect x="163.50" y="754.30" width="1" height="3.6"/><rect x="179.30" y="754.30" width="1" height="3.6"/><rect x="198.10" y="754.30" width="1" height="3.6"/><rect x="213.50" y="754.30" width="1" height="3.6"/><rect x="229.30" y="754.30" width="1" height="3.6"/><rect x="248.30" y="754.30" width="1" height="3.6"/><rect x="264.90" y="754.30" width="1" height="3.6"/><rect x="283.60" y="754.30" width="1" height="3.6"/><rect x="299.70" y="754.30" width="1" height="3.6"/><rect x="314.60" y="754.30" width="1" height="3.6"/><rect x="333.30" y="754.30" width="1" height="3.6"/><rect x="349.90" y="754.30" width="1" height="3.6"/><rect x="364.80" y="754.30" width="1" height="3.6"/><rect x="380.80" y="754.30" width="1" height="3.6"/><rect x="399.70" y="754.30" width="1" height="3.6"/><rect x="416.00" y="754.30" width="1" height="3.6"/><rect x="434.50" y="754.30" width="1" height="3.6"/><rect x="449.90" y="754.30" width="1" height="3.6"/><rect x="466.00" y="754.30" width="1" height="3.6"/><rect x="484.70" y="754.30" width="1" height="3.6"/><rect x="501.30" y="754.30" width="1" height="3.6"/><rect x="516.20" y="754.30" width="1" height="3.6"/><rect x="536.10" y="754.30" width="1" height="3.6"/><rect x="551.00" y="754.30" width="1" height="3.6"/><rect x="570.00" y="754.30" width="1" height="3.6"/><rect x="586.00" y="754.30" width="1" height="3.6"/><rect x="600.90" y="754.30" width="1" height="3.6"/><rect x="617.50" y="754.30" width="1" height="3.6"/><rect x="636.10" y="754.30" width="1" height="3.6"/><rect x="652.30" y="754.30" width="1" height="3.6"/><rect x="667.50" y="754.30" width="1" height="3.6"/><rect x="686.30" y="754.30" width="1" height="3.6"/><rect x="702.30" y="754.30" width="1" height="3.6"/><rect x="721.10" y="754.30" width="1" height="3.6"/><rect x="737.10" y="754.30" width="1" height="3.6"/><rect x="752.20" y="754.30" width="1" height="3.6"/><rect x="772.30" y="754.30" width="1" height="3.6"/><rect x="787.50" y="754.30" width="1" height="3.6"/><rect x="802.50" y="754.30" width="1" height="3.6"/><rect x="822.00" y="754.30" width="1" height="3.6"/><rect x="837.60" y="754.30" width="1" height="3.6"/><rect x="853.80" y="754.30" width="1" height="3.6"/><rect x="872.10" y="754.30" width="1" height="3.6"/><rect x="887.00" y="754.30" width="1" height="3.6"/><rect x="903.90" y="754.30" width="1" height="3.6"/><rect x="922.60" y="754.30" width="1" height="3.6"/><rect x="938.50" y="754.30" width="1" height="3.6"/><rect x="957.30" y="754.30" width="1" height="3.6"/><rect x="973.90" y="754.30" width="1" height="3.6"/><rect x="988.80" y="754.30" width="1" height="3.6"/><rect x="1003.70" y="754.30" width="1" height="3.6"/><rect x="1023.90" y="754.30" width="1" height="3.6"/><rect x="1038.90" y="754.30" width="1" height="3.6"/><rect x="1055.10" y="754.30" width="1" height="3.6"/><rect x="1074.00" y="754.30" width="1" height="3.6"/><rect x="1089.90" y="754.30" width="1" height="3.6"/><rect x="1123.70" y="754.30" width="1" height="3.6"/></g>
<g fill="#5c6164"><rect x="148.10" y="774.3" width="1.4" height="20.6"/><rect x="349.70" y="774.3" width="1.4" height="20.6"/><rect x="550.80" y="774.3" width="1.4" height="20.6"/><rect x="752.00" y="774.3" width="1.4" height="20.6"/><rect x="957.10" y="774.3" width="1.4" height="20.6"/></g>
<g fill="#f0f0f0"><path d="M1137.9 31.00 L1147.5 34.50 L1137.9 38.00 Z"/><path d="M1137.9 70.00 L1147.5 73.50 L1137.9 77.00 Z"/><path d="M1137.9 109.90 L1147.5 113.40 L1137.9 116.90 Z"/><path d="M1137.9 148.90 L1147.5 152.40 L1137.9 155.90 Z"/><path d="M1137.9 188.60 L1147.5 192.10 L1137.9 195.60 Z"/><path d="M1137.9 227.70 L1147.5 231.20 L1137.9 234.70 Z"/><path d="M1137.9 266.60 L1147.5 270.10 L1137.9 273.60 Z"/><path d="M1137.9 306.10 L1147.5 309.60 L1137.9 313.10 Z"/><path d="M1137.9 345.50 L1147.5 349.00 L1137.9 352.50 Z"/><path d="M1137.9 392.50 L1147.5 396.00 L1137.9 399.50 Z"/><path d="M1137.9 440.00 L1147.5 443.50 L1137.9 447.00 Z"/><path d="M1137.9 488.60 L1147.5 492.10 L1137.9 495.60 Z"/><path d="M1137.9 536.40 L1147.5 539.90 L1137.9 543.40 Z"/><path d="M1137.9 585.10 L1147.5 588.60 L1137.9 592.10 Z"/><path d="M1137.9 633.80 L1147.5 637.30 L1137.9 640.80 Z"/><path d="M1137.9 681.50 L1147.5 685.00 L1137.9 688.50 Z"/><path d="M1137.9 730.50 L1147.5 734.00 L1137.9 737.50 Z"/></g>
<g fill="#c8c8c8"><rect x="1137.5" y="14.50" width="4" height="1.1"/><rect x="1137.5" y="53.50" width="4" height="1.1"/><rect x="1137.5" y="92.95" width="4" height="1.1"/><rect x="1137.5" y="132.40" width="4" height="1.1"/><rect x="1137.5" y="171.75" width="4" height="1.1"/><rect x="1137.5" y="211.15" width="4" height="1.1"/><rect x="1137.5" y="250.15" width="4" height="1.1"/><rect x="1137.5" y="289.35" width="4" height="1.1"/><rect x="1137.5" y="328.80" width="4" height="1.1"/><rect x="1137.5" y="368.20" width="4" height="1.1"/><rect x="1137.5" y="419.25" width="4" height="1.1"/><rect x="1137.5" y="467.30" width="4" height="1.1"/><rect x="1137.5" y="515.50" width="4" height="1.1"/><rect x="1137.5" y="563.75" width="4" height="1.1"/><rect x="1137.5" y="612.45" width="4" height="1.1"/><rect x="1137.5" y="660.65" width="4" height="1.1"/><rect x="1137.5" y="709.00" width="4" height="1.1"/></g>
<text x="1148.29" y="41.30" font-size="17" fill="#f0f0f0" textLength="44.41" lengthAdjust="spacingAndGlyphs">30000</text><text x="1148.10" y="80.30" font-size="17" fill="#f0f0f0" textLength="44.60" lengthAdjust="spacingAndGlyphs">20000</text><text x="1147.67" y="120.20" font-size="17" fill="#f0f0f0" textLength="45.04" lengthAdjust="spacingAndGlyphs">10000</text><text x="1148.22" y="159.20" font-size="17" fill="#f0f0f0" textLength="9.66" lengthAdjust="spacingAndGlyphs">0</text><rect x="1150.2" y="192.80" width="5.8" height="1.35" fill="#f0f0f0"/><text x="1157.07" y="198.90" font-size="17" fill="#f0f0f0" textLength="45.04" lengthAdjust="spacingAndGlyphs">10000</text><rect x="1150.2" y="231.90" width="5.8" height="1.35" fill="#f0f0f0"/><text x="1157.50" y="238.00" font-size="17" fill="#f0f0f0" textLength="44.60" lengthAdjust="spacingAndGlyphs">20000</text><rect x="1150.2" y="270.80" width="5.8" height="1.35" fill="#f0f0f0"/><text x="1157.69" y="276.90" font-size="17" fill="#f0f0f0" textLength="44.41" lengthAdjust="spacingAndGlyphs">30000</text><rect x="1150.2" y="310.30" width="5.8" height="1.35" fill="#f0f0f0"/><text x="1157.93" y="316.40" font-size="17" fill="#f0f0f0" textLength="44.16" lengthAdjust="spacingAndGlyphs">40000</text><rect x="1150.2" y="349.70" width="5.8" height="1.35" fill="#f0f0f0"/><text x="1157.66" y="355.80" font-size="17" fill="#f0f0f0" textLength="44.44" lengthAdjust="spacingAndGlyphs">50000</text><text x="1148.10" y="402.80" font-size="17" fill="#f0f0f0" textLength="44.60" lengthAdjust="spacingAndGlyphs">20000</text><text x="1148.22" y="450.30" font-size="17" fill="#f0f0f0" textLength="9.66" lengthAdjust="spacingAndGlyphs">0</text><rect x="1150.2" y="492.80" width="5.8" height="1.35" fill="#f0f0f0"/><text x="1157.50" y="498.90" font-size="17" fill="#f0f0f0" textLength="44.60" lengthAdjust="spacingAndGlyphs">20000</text><rect x="1150.2" y="540.60" width="5.8" height="1.35" fill="#f0f0f0"/><text x="1157.93" y="546.70" font-size="17" fill="#f0f0f0" textLength="44.16" lengthAdjust="spacingAndGlyphs">40000</text><rect x="1150.2" y="589.30" width="5.8" height="1.35" fill="#f0f0f0"/><text x="1157.48" y="595.40" font-size="17" fill="#f0f0f0" textLength="44.62" lengthAdjust="spacingAndGlyphs">60000</text><rect x="1150.2" y="638.00" width="5.8" height="1.35" fill="#f0f0f0"/><text x="1157.61" y="644.10" font-size="17" fill="#f0f0f0" textLength="44.49" lengthAdjust="spacingAndGlyphs">80000</text><rect x="1150.2" y="685.70" width="5.8" height="1.35" fill="#f0f0f0"/><text x="1156.57" y="691.80" font-size="17" fill="#f0f0f0" textLength="35.75" lengthAdjust="spacingAndGlyphs">0.1M</text><rect x="1150.2" y="734.70" width="5.8" height="1.35" fill="#f0f0f0"/><text x="1156.59" y="740.80" font-size="17" fill="#f0f0f0" textLength="43.71" lengthAdjust="spacingAndGlyphs">0.12M</text>
<path d="M1138.8 177.30 L1146.2 166.70 L1204.8 166.70 L1204.8 187.90 L1146.2 187.90 Z" fill="#ffffff"/><rect x="1148.8" y="178.30" width="5.9" height="1.4" fill="#000"/><text x="1155.36" y="184.20" font-size="17.5" fill="#000" textLength="36.76" lengthAdjust="spacingAndGlyphs">6358</text>
<path d="M1138.8 561.15 L1146.2 550.55 L1204.8 550.55 L1204.8 571.75 L1146.2 571.75 Z" fill="#ffffff"/><rect x="1148.8" y="562.15" width="5.9" height="1.4" fill="#000"/><text x="1155.83" y="568.05" font-size="17.5" fill="#000" textLength="44.49" lengthAdjust="spacingAndGlyphs">48580</text>
<text x="26.10" y="771.50" font-size="16.5" fill="#f0f0f0" textLength="25.27" lengthAdjust="spacingAndGlyphs">Jun</text><text x="74.43" y="771.50" font-size="16.5" fill="#f0f0f0" textLength="27.89" lengthAdjust="spacingAndGlyphs">Sep</text><text x="124.48" y="771.50" font-size="16.5" fill="#f0f0f0" textLength="27.88" lengthAdjust="spacingAndGlyphs">Dec</text><text x="175.19" y="771.50" font-size="16.5" fill="#f0f0f0" textLength="27.00" lengthAdjust="spacingAndGlyphs">Mar</text><text x="227.05" y="771.50" font-size="16.5" fill="#f0f0f0" textLength="25.27" lengthAdjust="spacingAndGlyphs">Jun</text><text x="278.18" y="771.50" font-size="16.5" fill="#f0f0f0" textLength="27.89" lengthAdjust="spacingAndGlyphs">Sep</text><text x="327.73" y="771.50" font-size="16.5" fill="#f0f0f0" textLength="27.88" lengthAdjust="spacingAndGlyphs">Dec</text><text x="376.74" y="771.50" font-size="16.5" fill="#f0f0f0" textLength="27.00" lengthAdjust="spacingAndGlyphs">Mar</text><text x="430.45" y="771.50" font-size="16.5" fill="#f0f0f0" textLength="25.27" lengthAdjust="spacingAndGlyphs">Jun</text><text x="479.53" y="771.50" font-size="16.5" fill="#f0f0f0" textLength="27.89" lengthAdjust="spacingAndGlyphs">Sep</text><text x="529.68" y="771.50" font-size="16.5" fill="#f0f0f0" textLength="27.88" lengthAdjust="spacingAndGlyphs">Dec</text><text x="579.94" y="771.50" font-size="16.5" fill="#f0f0f0" textLength="27.00" lengthAdjust="spacingAndGlyphs">Mar</text><text x="632.45" y="771.50" font-size="16.5" fill="#f0f0f0" textLength="25.27" lengthAdjust="spacingAndGlyphs">Jun</text><text x="680.83" y="771.50" font-size="16.5" fill="#f0f0f0" textLength="27.89" lengthAdjust="spacingAndGlyphs">Sep</text><text x="730.78" y="771.50" font-size="16.5" fill="#f0f0f0" textLength="27.88" lengthAdjust="spacingAndGlyphs">Dec</text><text x="781.49" y="771.50" font-size="16.5" fill="#f0f0f0" textLength="27.00" lengthAdjust="spacingAndGlyphs">Mar</text><text x="833.95" y="771.50" font-size="16.5" fill="#f0f0f0" textLength="25.27" lengthAdjust="spacingAndGlyphs">Jun</text><text x="881.98" y="771.50" font-size="16.5" fill="#f0f0f0" textLength="27.89" lengthAdjust="spacingAndGlyphs">Sep</text><text x="934.03" y="771.50" font-size="16.5" fill="#f0f0f0" textLength="27.88" lengthAdjust="spacingAndGlyphs">Dec</text><text x="982.74" y="771.50" font-size="16.5" fill="#f0f0f0" textLength="27.00" lengthAdjust="spacingAndGlyphs">Mar</text><text x="1035.25" y="771.50" font-size="16.5" fill="#f0f0f0" textLength="25.27" lengthAdjust="spacingAndGlyphs">Jun</text><text x="1093.33" y="771.50" font-size="16.5" fill="#f0f0f0" textLength="27.89" lengthAdjust="spacingAndGlyphs">Sep</text><text x="56.51" y="791.80" font-size="16.5" fill="#f0f0f0" textLength="35.61" lengthAdjust="spacingAndGlyphs">2020</text><text x="231.79" y="791.80" font-size="16.5" fill="#f0f0f0" textLength="35.61" lengthAdjust="spacingAndGlyphs">2021</text><text x="433.15" y="791.80" font-size="16.5" fill="#f0f0f0" textLength="35.61" lengthAdjust="spacingAndGlyphs">2022</text><text x="634.25" y="791.80" font-size="16.5" fill="#f0f0f0" textLength="35.61" lengthAdjust="spacingAndGlyphs">2023</text><text x="837.28" y="791.80" font-size="16.5" fill="#f0f0f0" textLength="35.61" lengthAdjust="spacingAndGlyphs">2024</text><text x="1029.54" y="791.80" font-size="16.5" fill="#f0f0f0" textLength="35.61" lengthAdjust="spacingAndGlyphs">2025</text>
<text x="448.78" y="62.50" font-size="13.2" fill="#f0f0f0" textLength="106.11" lengthAdjust="spacingAndGlyphs">Leveraged Funds</text>
<text x="450.17" y="405.20" font-size="13.2" fill="#f0f0f0" textLength="98.01" lengthAdjust="spacingAndGlyphs">Asset Managers</text>
<rect x="823.2" y="3.6" width="308.39999999999986" height="38.3" rx="4" fill="#12171c" fill-opacity="0.55" stroke="#05080a" stroke-width="1.5"/><rect x="833.7" y="15.3" width="15" height="15" fill="#ffffff"/><text x="853.78" y="30.20" font-size="18" fill="#f0f0f0" textLength="71.78" lengthAdjust="spacingAndGlyphs">TFC1FLFN</text><text x="930.11" y="30.20" font-size="18" fill="#f0f0f0" textLength="42.29" lengthAdjust="spacingAndGlyphs">Index</text><text x="979.53" y="30.20" font-size="18" fill="#f0f0f0" textLength="7.34" lengthAdjust="spacingAndGlyphs">-</text><text x="992.67" y="30.20" font-size="18" fill="#f0f0f0" textLength="33.06" lengthAdjust="spacingAndGlyphs">Last</text><text x="1031.67" y="30.20" font-size="18" fill="#f0f0f0" textLength="39.81" lengthAdjust="spacingAndGlyphs">Price</text><text x="1079.55" y="30.20" font-size="18" fill="#f0f0f0" textLength="43.80" lengthAdjust="spacingAndGlyphs">-6358</text>
<rect x="816.3" y="383.6" width="314.70000000000005" height="38.799999999999955" rx="4" fill="#12171c" fill-opacity="0.55" stroke="#05080a" stroke-width="1.5"/><rect x="827.2" y="395.7" width="15" height="15" fill="#ffffff"/><text x="848.48" y="410.50" font-size="18" fill="#f0f0f0" textLength="69.20" lengthAdjust="spacingAndGlyphs">TFC1FAIN</text><text x="921.51" y="410.50" font-size="18" fill="#f0f0f0" textLength="42.18" lengthAdjust="spacingAndGlyphs">Index</text><text x="970.30" y="410.50" font-size="18" fill="#f0f0f0" textLength="8.29" lengthAdjust="spacingAndGlyphs">-</text><text x="983.53" y="410.50" font-size="18" fill="#f0f0f0" textLength="33.79" lengthAdjust="spacingAndGlyphs">Last</text><text x="1023.27" y="410.50" font-size="18" fill="#f0f0f0" textLength="39.81" lengthAdjust="spacingAndGlyphs">Price</text><text x="1070.46" y="410.50" font-size="18" fill="#f0f0f0" textLength="52.60" lengthAdjust="spacingAndGlyphs">-48580</text>
<rect x="413.8" y="1.1" width="78.5" height="23.6" fill="#2e2c2e" fill-opacity="0.52"/>
<rect x="494.8" y="1.1" width="100.59999999999997" height="23.6" fill="#2e2c2e" fill-opacity="0.52"/>
<rect x="597.6" y="1.1" width="74.89999999999998" height="23.6" fill="#2e2c2e" fill-opacity="0.52"/>
<rect x="674.7" y="1.1" width="77.19999999999993" height="23.6" fill="#2e2c2e" fill-opacity="0.52"/>
<rect x="492.3" y="1.1" width="2.4" height="23.6" fill="#16202a" fill-opacity="0.8"/>
<rect x="595.4" y="1.1" width="2.4" height="23.6" fill="#16202a" fill-opacity="0.8"/>
<rect x="672.5" y="1.1" width="2.4" height="23.6" fill="#16202a" fill-opacity="0.8"/>
<rect x="412.5" y="0" width="340.8" height="1.1" fill="#0f1316"/>
<rect x="412.5" y="24.7" width="340.8" height="1.9" fill="#080b0d"/>
<rect x="412.5" y="0" width="1.3" height="26.6" fill="#080b0d"/>
<rect x="751.9" y="0" width="1.4" height="26.6" fill="#080b0d"/>
<text x="445.63" y="17.70" font-size="16.3" fill="#e8e8e8" textLength="41.35" lengthAdjust="spacingAndGlyphs">Track</text>
<text x="527.27" y="17.70" font-size="16.3" fill="#e8e8e8" textLength="63.44" lengthAdjust="spacingAndGlyphs">Annotate</text>
<text x="629.35" y="17.70" font-size="16.3" fill="#e8e8e8" textLength="38.19" lengthAdjust="spacingAndGlyphs">News</text>
<text x="706.79" y="17.70" font-size="16.3" fill="#e8e8e8" textLength="40.87" lengthAdjust="spacingAndGlyphs">Zoom</text>
<g fill="#85898d"><path d="M421.8 12.3 L426.3 10.6 L426.3 14 Z M436.3 12.3 L431.7 10.6 L431.7 14 Z M429 4.8 L427.3 9.4 L430.7 9.4 Z M429 19.7 L427.3 15.2 L430.7 15.2 Z"/></g><g stroke="#85898d" fill="none"><circle cx="429" cy="12.3" r="3.1" stroke-width="1.2"/><path d="M425.5 12.3 H432.5 M429 8.8 V15.8" stroke-width="1"/></g>
<path d="M505.6 16.9 L514.2 8.9" stroke="#85898d" stroke-width="2.7" stroke-linecap="round"/><path d="M510 17.4 H515.8" stroke="#85898d" stroke-width="1.2"/>
<g fill="#85898d"><rect x="607.2" y="7" width="4.2" height="3.2"/><rect x="612.3" y="7" width="6.2" height="1"/><rect x="612.3" y="9.6" width="6.2" height="1"/><rect x="607.2" y="12" width="11.3" height="1.1"/><rect x="607.2" y="14.4" width="11.3" height="1.1"/><rect x="607.2" y="16.8" width="11.3" height="1.1"/></g>
<circle cx="688.5" cy="10.3" r="4.5" stroke="#85898d" stroke-width="1.5" fill="none"/><path d="M692.3 14.3 L696.4 18.3" stroke="#85898d" stroke-width="2.8" stroke-linecap="round"/>
</svg></body></html>
